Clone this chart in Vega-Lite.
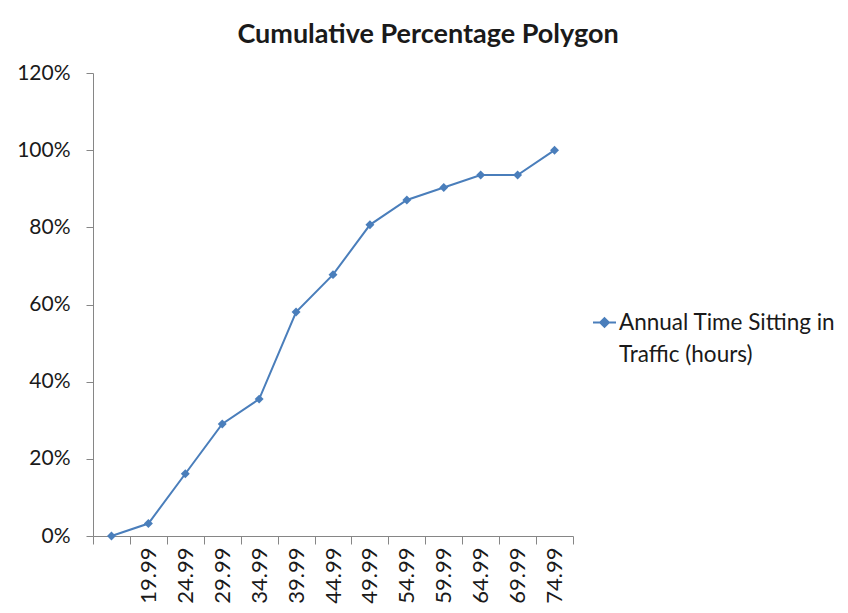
{
  "$schema": "https://vega.github.io/schema/vega-lite/v6.json",
  "width": 480,
  "height": 463,
  "autosize": "none",
  "padding": {"left": 93, "top": 73, "right": 275, "bottom": 77},
  "background": "white",
  "config": {
    "font": "Lato",
    "view": {"stroke": null}
  },
  "title": {
    "text": "Cumulative Percentage Polygon",
    "fontSize": 27,
    "fontWeight": "bold",
    "color": "#1a1a1a",
    "anchor": "middle",
    "dx": 95,
    "offset": 13
  },
  "data": {
    "values": [
      {"upper": "", "pct": 0, "series": "Annual Time Sitting in Traffic (hours)"},
      {"upper": "19.99", "pct": 0.0323, "series": "Annual Time Sitting in Traffic (hours)"},
      {"upper": "24.99", "pct": 0.1613, "series": "Annual Time Sitting in Traffic (hours)"},
      {"upper": "29.99", "pct": 0.2903, "series": "Annual Time Sitting in Traffic (hours)"},
      {"upper": "34.99", "pct": 0.3548, "series": "Annual Time Sitting in Traffic (hours)"},
      {"upper": "39.99", "pct": 0.5806, "series": "Annual Time Sitting in Traffic (hours)"},
      {"upper": "44.99", "pct": 0.6774, "series": "Annual Time Sitting in Traffic (hours)"},
      {"upper": "49.99", "pct": 0.8065, "series": "Annual Time Sitting in Traffic (hours)"},
      {"upper": "54.99", "pct": 0.871, "series": "Annual Time Sitting in Traffic (hours)"},
      {"upper": "59.99", "pct": 0.9032, "series": "Annual Time Sitting in Traffic (hours)"},
      {"upper": "64.99", "pct": 0.9355, "series": "Annual Time Sitting in Traffic (hours)"},
      {"upper": "69.99", "pct": 0.9355, "series": "Annual Time Sitting in Traffic (hours)"},
      {"upper": "74.99", "pct": 1.0, "series": "Annual Time Sitting in Traffic (hours)"}
    ]
  },
  "encoding": {
    "x": {
      "field": "upper",
      "type": "ordinal",
      "sort": null,
      "scale": {"type": "band", "paddingInner": 0, "paddingOuter": 0},
      "axis": {
        "title": null,
        "labelAngle": -90,
        "labelFontSize": 22,
        "labelColor": "#1a1a1a",
        "labelPadding": 3,
        "tickBand": "extent",
        "tickSize": 8,
        "tickColor": "#868686",
        "domainColor": "#868686",
        "grid": false
      }
    },
    "y": {
      "field": "pct",
      "type": "quantitative",
      "scale": {"domain": [0, 1.2], "nice": false},
      "axis": {
        "title": null,
        "format": "%",
        "values": [0, 0.2, 0.4, 0.6, 0.8, 1.0, 1.2],
        "labelFontSize": 21,
        "labelColor": "#1a1a1a",
        "labelPadding": 16,
        "tickSize": 7,
        "tickColor": "#868686",
        "domainColor": "#868686",
        "grid": false
      }
    },
    "color": {
      "field": "series",
      "type": "nominal",
      "scale": {"range": ["#4A7EBB"]},
      "legend": {
        "title": null,
        "orient": "none",
        "legendX": 499,
        "legendY": 237,
        "labelFontSize": 22.5,
        "labelLimit": 400,
        "labelColor": "#1a1a1a",
        "labelExpr": "['Annual Time Sitting in', 'Traffic (hours)']",
        "labelBaseline": "middle",
        "labelOffset": 2,
        "symbolType": "M-1,0H1M0,-0.38L0.38,0L0,0.38L-0.38,0Z",
        "symbolSize": 529,
        "symbolStrokeWidth": 2,
        "symbolFillColor": "#4A7EBB",
        "encode": {
          "labels": {"update": {"lineHeight": {"value": 32}}}
        }
      }
    }
  },
  "layer": [
    {"mark": {"type": "line", "strokeWidth": 2}},
    {"mark": {"type": "point", "shape": "diamond", "filled": true, "size": 80, "opacity": 1}}
  ]
}
